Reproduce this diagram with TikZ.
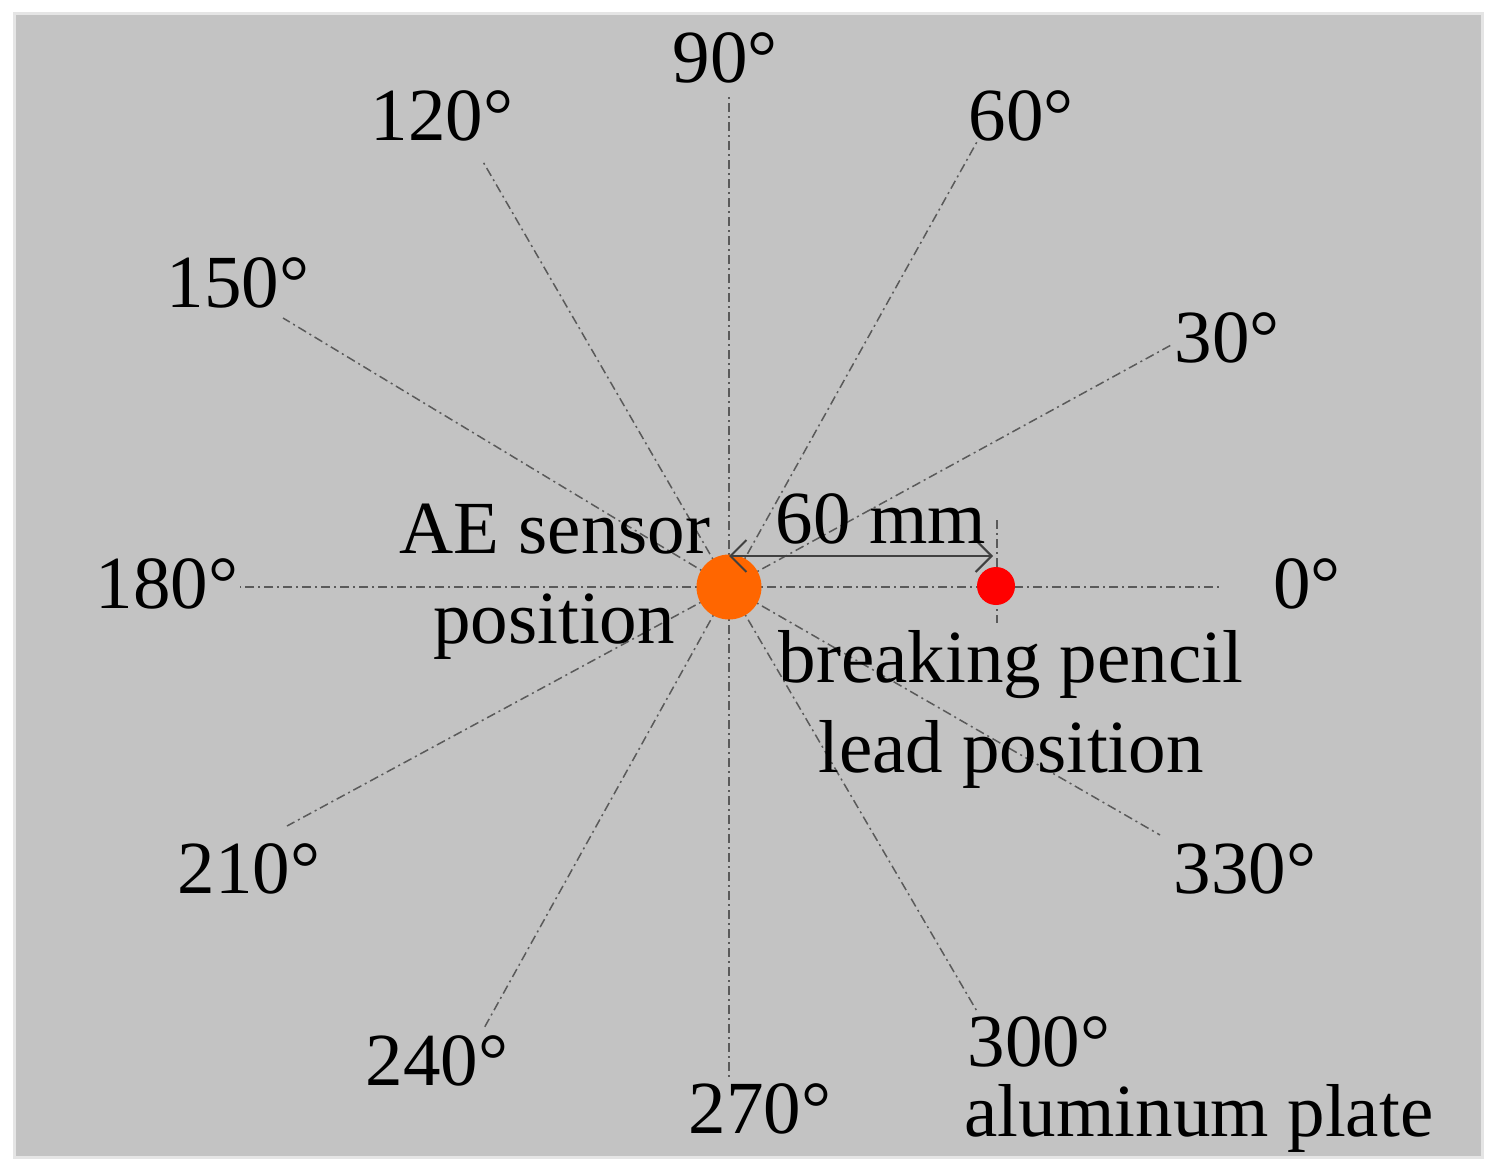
\documentclass[tikz,border=0pt]{standalone}
\usepackage{fontspec}
\setmainfont{Liberation Serif}
\usetikzlibrary{arrows.meta,calc}
\definecolor{plate}{RGB}{195,195,195}
\definecolor{rayc}{RGB}{90,90,90}
\definecolor{sensor}{RGB}{255,102,0}
\definecolor{pencil}{RGB}{255,0,0}
\tikzset{
  ray/.style={draw=rayc, line width=1.5pt, dash pattern=on 9pt off 4pt on 2pt off 4pt},
  lbl/.style={anchor=base, inner sep=0pt, font=\fontsize{75}{90}\selectfont},
  dimarrow/.style={draw=black!75, line width=2pt, {Straight Barb[length=16pt,width=32pt,line width=2pt]}-{Straight Barb[length=16pt,width=32pt,line width=2pt]}}
}
\begin{document}
\begin{tikzpicture}[x=1pt,y=-1pt]
\useasboundingbox (0,0) rectangle (1495,1173);
\fill[white] (0,0) rectangle (1495,1173);
\draw[fill=plate, draw=black!10, line width=3pt] (14,13) rectangle (1482,1157);
\coordinate (O) at (729,587);
% ray ends
\coordinate (R0) at (1220,587);
\coordinate (R30) at (1173,344);
\coordinate (R60) at (978,140);
\coordinate (R90) at (729,95);
\coordinate (R120) at (482,160);
\coordinate (R150) at (283,318);
\coordinate (R180) at (240,587);
\coordinate (R210) at (287,826);
\coordinate (R240) at (483,1030);
\coordinate (R270) at (729,1080);
\coordinate (R300) at (978,1013);
\coordinate (R330) at (1160,835);
\foreach \a in {0,30,...,330} {
  \draw[ray] (O) -- (R\a);
}
% tick through pencil lead position
\coordinate (T1) at (997,520);
\coordinate (T2) at (997,623);
\draw[ray, line width=2pt] (T1) -- (T2);
% dots
\node[circle, fill=sensor, minimum size=65pt, inner sep=0pt] (sensor) at (O) {};
\node[circle, fill=pencil, minimum size=38pt, inner sep=0pt] (pencil) at (996,586) {};
% dimension
\coordinate (D1) at (729,556);
\coordinate (D2) at (993,556);
\draw[dimarrow] (D1) -- (D2);
\node[lbl] (dim) at (881,543) {60 mm};
% angle labels
\node[lbl] (l90) at (725,82) {90°};
\node[lbl] (l120) at (442,140) {120°};
\node[lbl] (l60) at (1021,140) {60°};
\node[lbl] (l150) at (238,307) {150°};
\node[lbl] (l30) at (1227,362) {30°};
\node[lbl] (l180) at (167,608) {180°};
\node[lbl] (l0) at (1307,608) {0°};
\node[lbl] (l210) at (249,893) {210°};
\node[lbl] (l330) at (1245,893) {330°};
\node[lbl] (l240) at (437,1085) {240°};
\node[lbl] (l300) at (1039,1066) {300°};
\node[lbl] (l270) at (760,1133) {270°};
% text labels
\node[lbl] (ae1) at (555,553) {AE sensor};
\node[lbl] (ae2) at (554,643) {position};
\node[lbl] (bp1) at (1011,682) {breaking pencil};
\node[lbl] (bp2) at (1011,772) {lead position};
\node[lbl] (al) at (1199,1136) {aluminum plate};
\end{tikzpicture}
\end{document}
